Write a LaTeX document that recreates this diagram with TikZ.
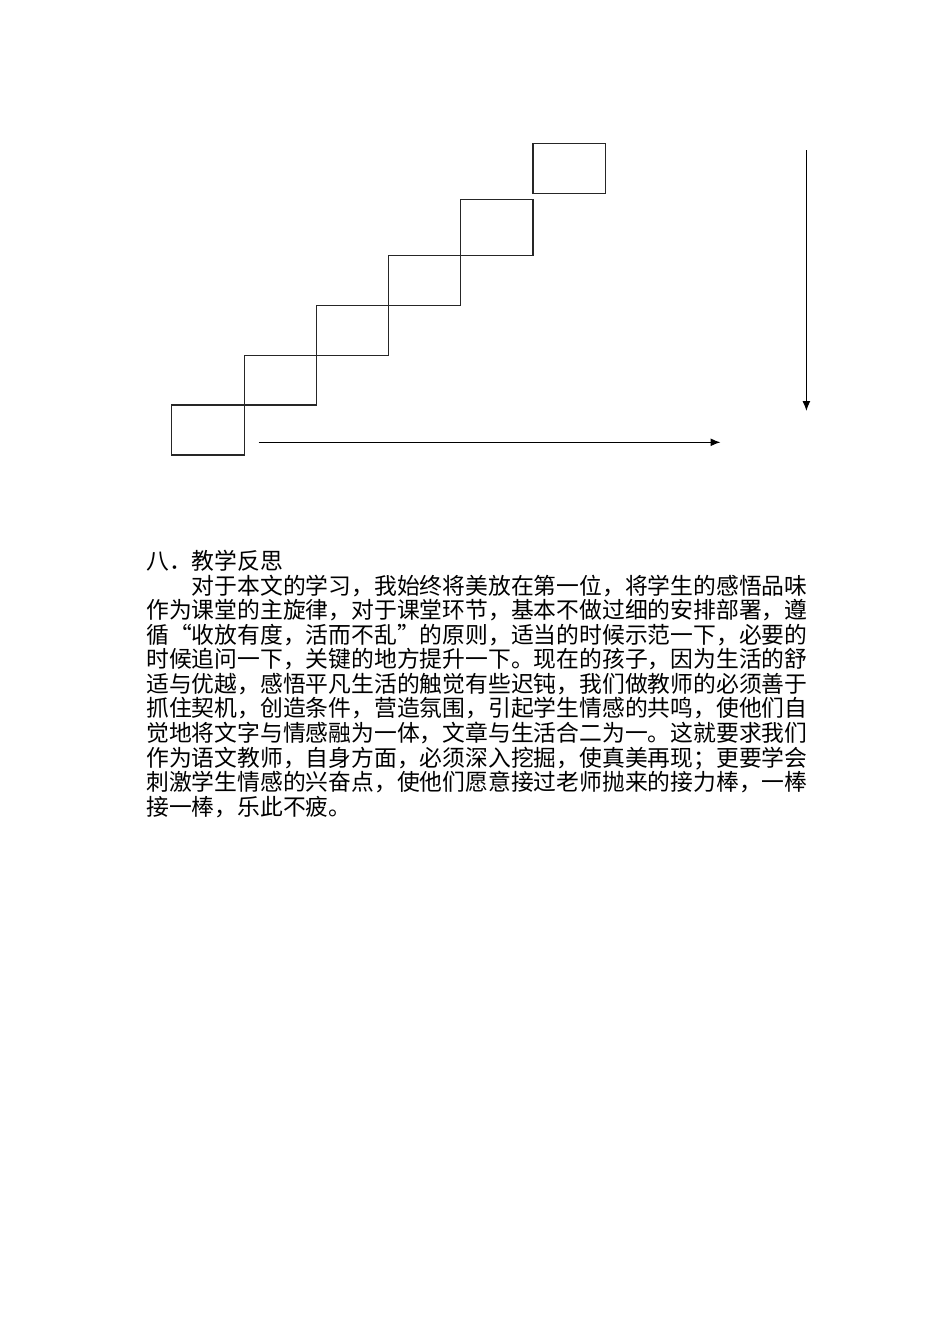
\documentclass[tikz,border=0pt]{standalone}
\usepackage{fontspec}
\newfontfamily\cjk{Noto Sans CJK SC}
\usetikzlibrary{arrows.meta}
\newcommand{\myopenq}{\makebox[22.8pt][r]{“}}
\newcommand{\mycloseq}{\makebox[22.8pt][l]{”}}
\begin{document}
\begin{tikzpicture}[x=1pt,y=-1pt,
  stepbox/.style={draw=black!85, line width=1.3pt, inner sep=0pt, outer sep=0pt},
  arrowline/.style={draw=black, line width=1.2pt, -{Latex[length=10pt,width=8pt]}},
  textline/.style={anchor=base west, inner sep=0pt, font=\cjk\fontsize{22.8pt}{24.6pt}\selectfont}]
\useasboundingbox[fill=white] (0,0) rectangle (950,1344);
% staircase boxes
\node[stepbox, minimum width=72.8pt, minimum height=50pt] (b1) at (208.2,430) {};
\node[stepbox, minimum width=71.9pt, minimum height=49.3pt] (b2) at (280.55,380.35) {};
\node[stepbox, minimum width=72.3pt, minimum height=50pt] (b3) at (352.65,330.7) {};
\node[stepbox, minimum width=72pt, minimum height=50pt] (b4) at (424.8,280.7) {};
\node[stepbox, minimum width=72.3pt, minimum height=56.4pt] (b5) at (496.95,227.5) {};
\node[stepbox, minimum width=72.3pt, minimum height=50pt] (b6) at (569.25,168.3) {};
% arrows
\coordinate (hs) at (258.6,442.3);
\coordinate (he) at (720.5,442.3);
\coordinate (vs) at (806.4,150);
\coordinate (ve) at (806.4,411);
\draw[arrowline] (hs) -- (he);
\draw[arrowline] (vs) -- (ve);
% text
\node[textline] (t0) at (146,569.5) {八．教学反思};
\node[textline] (t1) at (146,594.1) {\hspace*{45.6pt}对于本文的学习，我始终将美放在第一位，将学生的感悟品味};
\node[textline] (t2) at (146,618.6) {作为课堂的主旋律，对于课堂环节，基本不做过细的安排部署，遵};
\node[textline] (t3) at (146,643.2) {循\myopenq 收放有度，活而不乱\mycloseq 的原则，适当的时候示范一下，必要的};
\node[textline] (t4) at (146,667.8) {时候追问一下，关键的地方提升一下。现在的孩子，因为生活的舒};
\node[textline] (t5) at (146,692.4) {适与优越，感悟平凡生活的触觉有些迟钝，我们做教师的必须善于};
\node[textline] (t6) at (146,716.9) {抓住契机，创造条件，营造氛围，引起学生情感的共鸣，使他们自};
\node[textline] (t7) at (146,741.5) {觉地将文字与情感融为一体，文章与生活合二为一。这就要求我们};
\node[textline] (t8) at (146,766.1) {作为语文教师，自身方面，必须深入挖掘，使真美再现；更要学会};
\node[textline] (t9) at (146,790.6) {刺激学生情感的兴奋点，使他们愿意接过老师抛来的接力棒，一棒};
\node[textline] (t10) at (146,815.2) {接一棒，乐此不疲。};
\end{tikzpicture}
\end{document}
